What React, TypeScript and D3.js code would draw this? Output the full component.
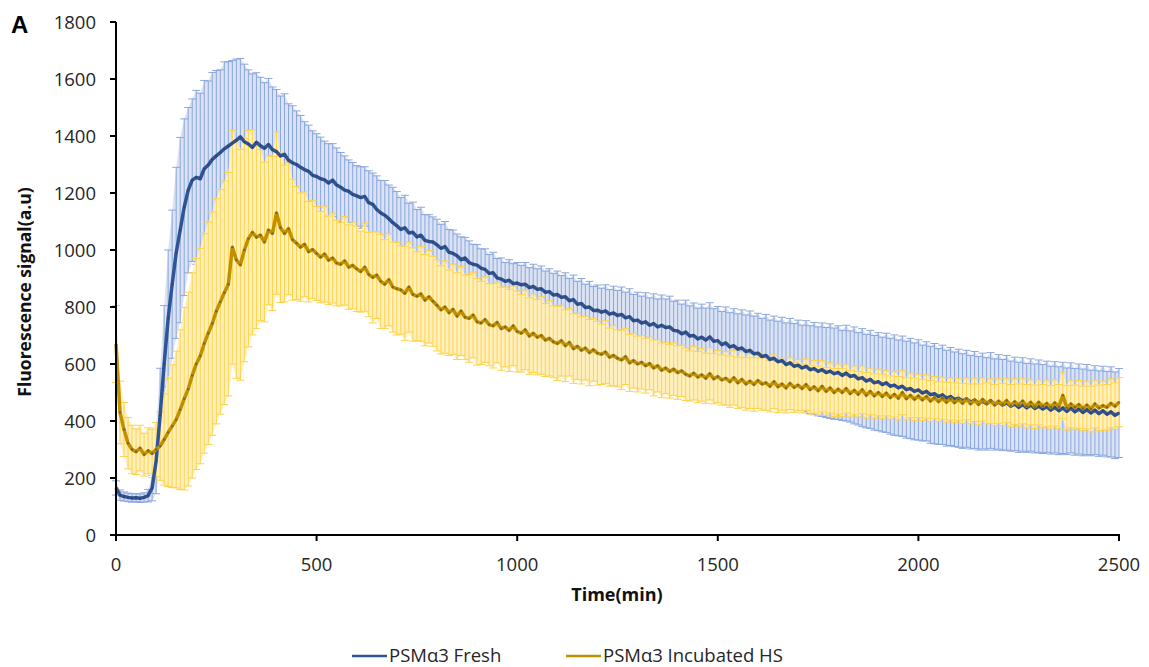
import React from 'react';
import * as d3 from 'd3';

// time axis (min), one reading every 10 min
const TIMES: number[] = d3.range(0, 2501, 10);

const FRESH_MEAN: number[] = [
  165, 140, 135, 132, 130, 131, 129, 132, 138, 165,
  260, 420, 600, 760, 880, 990, 1070, 1150, 1210, 1245,
  1255, 1250, 1285, 1298, 1318, 1330, 1342, 1355, 1365, 1375,
  1385, 1397, 1380, 1372, 1360, 1378, 1366, 1357, 1370, 1352,
  1345, 1330, 1336, 1315, 1306, 1300, 1290, 1282, 1276, 1262,
  1258, 1250, 1246, 1235, 1245, 1228, 1220, 1210, 1206, 1195,
  1190, 1184, 1188, 1166, 1160, 1142, 1130, 1122, 1110, 1096,
  1085, 1072, 1078, 1060, 1062, 1046, 1052, 1034, 1030, 1028,
  1018, 1006, 1012, 992, 988, 980, 966, 972, 956, 950,
  947, 936, 932, 918, 920, 902, 898, 890, 894, 882,
  884, 878, 880, 868, 872, 862, 864, 852, 854, 842,
  844, 834, 836, 822, 826, 810, 812, 798, 800, 788,
  789, 782, 786, 775, 779, 770, 774, 762, 766, 752,
  754, 744, 748, 736, 742, 730, 736, 728, 730, 718,
  716, 706, 712, 698, 700, 688, 694, 684, 695, 680,
  682, 668, 674, 660, 664, 652, 656, 644, 648, 636,
  638, 626, 630, 616, 620, 608, 612, 598, 604, 592,
  596, 586, 592, 580, 584, 574, 580, 570, 575, 566,
  570, 560, 568, 556, 560, 548, 552, 540, 546, 534,
  538, 528, 534, 522, 526, 516, 522, 510, 514, 504,
  509, 498, 504, 492, 496, 486, 492, 480, 486, 476,
  480, 470, 478, 466, 474, 462, 470, 460, 472, 458,
  467, 456, 464, 452, 460, 448, 458, 446, 456, 444,
  452, 442, 450, 438, 448, 436, 446, 434, 446, 432,
  442, 430, 440, 428, 438, 426, 436, 424, 432, 420,
  428,
];

const FRESH_ERR: number[] = [
  25, 18, 16, 15, 15, 14, 15, 16, 22, 45,
  115, 165, 205, 240, 260, 300, 325, 310, 290, 285,
  305, 300, 310, 295, 305, 300, 290, 305, 296, 290,
  285, 275, 272, 260, 258, 244, 240, 230, 232, 220,
  218, 210, 212, 198, 200, 188, 182, 168, 162, 156,
  150, 146, 136, 138, 128, 130, 122, 120, 110, 112,
  106, 108, 104, 112, 110, 118, 114, 122, 118, 124,
  120, 112, 114, 104, 106, 96, 98, 90, 94, 88,
  90, 84, 88, 80, 82, 76, 80, 72, 76, 70,
  72, 68, 72, 66, 72, 68, 74, 66, 72, 70,
  72, 68, 76, 70, 78, 72, 80, 74, 80, 76,
  82, 76, 84, 78, 86, 80, 88, 82, 90, 84,
  88, 84, 92, 86, 94, 88, 96, 90, 98, 92,
  98, 94, 102, 96, 104, 98, 106, 100, 108, 102,
  108, 104, 112, 106, 114, 108, 116, 112, 120, 114,
  120, 116, 126, 120, 130, 124, 134, 128, 138, 132,
  140, 134, 144, 138, 148, 142, 152, 146, 156, 150,
  158, 150, 160, 154, 162, 156, 164, 158, 166, 160,
  164, 158, 168, 160, 170, 162, 172, 164, 172, 166,
  172, 166, 174, 168, 176, 168, 176, 170, 176, 170,
  176, 168, 174, 170, 176, 168, 174, 168, 172, 166,
  172, 166, 170, 164, 170, 164, 168, 162, 168, 160,
  166, 160, 166, 158, 164, 158, 164, 156, 162, 156,
  162, 156, 160, 154, 160, 154, 160, 152, 158, 152,
  158, 152, 158, 150, 156, 150, 156, 150, 158, 152,
  156,
];

const HS_MEAN: number[] = [
  670, 430, 370, 322, 300, 292, 305, 282, 296, 286,
  300, 312, 335, 360, 382, 405, 440, 478, 512, 560,
  600, 628, 672, 708, 742, 785, 818, 850, 880, 1010,
  965, 948, 1000, 1040, 1062, 1045, 1052, 1028, 1070, 1058,
  1130, 1078, 1058, 1075, 1036, 1024, 1010, 1020, 994, 1002,
  988, 975, 986, 964, 972, 954, 950, 962, 940, 946,
  934, 924, 940, 914, 904, 912, 890, 880, 896, 870,
  864, 860, 848, 870, 844, 838, 846, 824, 836, 820,
  806, 790, 800, 780, 792, 768, 786, 764, 760, 772,
  748, 744, 756, 738, 734, 746, 724, 730, 718, 734,
  714, 708, 720, 698, 708, 694, 700, 684, 690, 678,
  672, 682, 664, 676, 654, 662, 648, 656, 640, 650,
  638, 634, 642, 624, 630, 620, 614, 626, 604, 612,
  600, 606, 594, 602, 586, 594, 578, 586, 574, 582,
  570, 576, 564, 558, 568, 554, 562, 550, 566, 548,
  556, 544, 550, 538, 552, 534, 546, 530, 540, 528,
  542, 530, 534, 522, 538, 520, 530, 516, 532, 518,
  526, 514, 528, 510, 520, 506, 522, 504, 516, 500,
  512, 500, 514, 496, 508, 494, 510, 490, 504, 488,
  500, 486, 498, 482, 494, 480, 500, 478, 490, 476,
  488, 474, 486, 470, 482, 468, 480, 466, 478, 464,
  476, 462, 478, 460, 474, 458, 476, 462, 470, 456,
  470, 458, 472, 454, 468, 456, 470, 452, 466, 450,
  466, 452, 462, 448, 464, 450, 490, 446, 460, 448,
  458, 444, 456, 442, 460, 446, 454, 448, 462, 452,
  466,
];

const HS_ERR: number[] = [
  135, 110, 95, 90, 85, 80, 80, 75, 80, 85,
  95, 120, 160, 190, 215, 240, 280, 320, 340, 360,
  370, 378, 385, 390, 392, 395, 394, 392, 392, 410,
  415, 405, 392, 380, 360, 320, 300, 280, 262, 270,
  285, 262, 240, 232, 212, 198, 190, 184, 176, 172,
  165, 160, 168, 155, 158, 150, 146, 155, 148, 152,
  150, 142, 155, 148, 160, 152, 165, 156, 162, 158,
  162, 155, 165, 158, 164, 156, 166, 160, 162, 158,
  160, 155, 162, 150, 158, 152, 156, 148, 154, 150,
  152, 146, 150, 144, 148, 142, 146, 140, 144, 140,
  142, 136, 140, 134, 138, 132, 136, 128, 132, 126,
  130, 124, 126, 118, 122, 116, 118, 112, 116, 110,
  112, 106, 110, 102, 106, 100, 104, 98, 100, 96,
  98, 94, 96, 92, 98, 92, 96, 90, 94, 92,
  94, 90, 92, 88, 94, 90, 92, 88, 92, 88,
  92, 88, 94, 90, 96, 90, 98, 92, 96, 94,
  98, 92, 96, 90, 94, 90, 92, 88, 92, 88,
  90, 86, 90, 86, 92, 86, 90, 84, 88, 84,
  88, 84, 86, 82, 86, 80, 84, 80, 82, 78,
  82, 78, 80, 76, 80, 76, 78, 74, 78, 74,
  76, 72, 76, 72, 74, 70, 74, 70, 74, 70,
  74, 70, 74, 70, 76, 72, 76, 72, 78, 72,
  78, 74, 78, 74, 80, 74, 80, 76, 80, 76,
  80, 76, 82, 76, 82, 78, 82, 78, 84, 78,
  84, 78, 84, 80, 84, 80, 86, 80, 86, 82,
  86,
];

const X_TICKS: number[] = [0, 500, 1000, 1500, 2000, 2500];
const Y_TICKS: number[] = [0, 200, 400, 600, 800, 1000, 1200, 1400, 1600, 1800];
const SERIES_NAMES: string[] = ['PSMα3 Fresh', 'PSMα3 Incubated HS'];

type Pt = { t: number; m: number; e: number };

export default function App() {
  const W = 1149;
  const H = 667;
  const x = d3.scaleLinear().domain([0, 2500]).range([116, 1119]);
  const y = d3.scaleLinear().domain([0, 1800]).range([535, 22]);

  const build = (mean: number[], err: number[]): Pt[] =>
    TIMES.map((t, i) => ({ t, m: mean[i], e: err[i] }));
  const fresh = build(FRESH_MEAN, FRESH_ERR);
  const hs = build(HS_MEAN, HS_ERR);

  const area = d3
    .area<Pt>()
    .x((d) => x(d.t))
    .y0((d) => y(Math.max(0, d.m - d.e)))
    .y1((d) => y(d.m + d.e));
  const line = d3
    .line<Pt>()
    .x((d) => x(d.t))
    .y((d) => y(d.m));

  const errPath = (data: Pt[], cap: number) =>
    data
      .map((p) => {
        const xx = x(p.t);
        const yt = y(p.m + p.e);
        const yb = y(Math.max(0, p.m - p.e));
        return `M${xx},${yb}V${yt}M${xx - cap},${yt}H${xx + cap}M${xx - cap},${yb}H${xx + cap}`;
      })
      .join('');

  const font = '"Open Sans", "Noto Sans", sans-serif';

  return (
    <svg
      width={W}
      height={H}
      viewBox={`0 0 ${W} ${H}`}
      style={{ position: 'absolute', left: 0, top: 0, background: '#fff' }}
    >
      <rect x={0} y={0} width={W} height={H} fill="#fff" />

      {/* Fresh error bars */}
      <path d={area(fresh) || ''} fill="#dae2f4" />
      <path d={errPath(fresh, 4)} stroke="#8aa7dc" strokeWidth={1} fill="none" />

      {/* Incubated HS error bars */}
      <path d={area(hs) || ''} fill="#fff0c0" />
      <path d={errPath(hs, 4)} stroke="#ffd24a" strokeWidth={1} fill="none" />

      {/* lines */}
      <path d={line(fresh) || ''} stroke="#2f5597" strokeWidth={3.5} fill="none" strokeLinejoin="round" />
      {fresh.map((p, i) => (
        <circle key={'f' + i} cx={x(p.t)} cy={y(p.m)} r={1.2} fill="#3b3b4a" opacity={0.55} />
      ))}
      <path d={line(hs) || ''} stroke="#bf9000" strokeWidth={3.5} fill="none" strokeLinejoin="round" />
      {hs.map((p, i) => (
        <circle key={'h' + i} cx={x(p.t)} cy={y(p.m)} r={1.2} fill="#444" opacity={0.55} />
      ))}

      {/* axes */}
      <line x1={116} x2={116} y1={22} y2={536} stroke="#000" strokeWidth={2} />
      <line x1={115} x2={1120} y1={535} y2={535} stroke="#000" strokeWidth={2} />
      {Y_TICKS.map((v) => (
        <g key={'y' + v}>
          <line x1={110} x2={116} y1={y(v)} y2={y(v)} stroke="#000" strokeWidth={2} />
          <text x={96} y={y(v)} dy="0.36em" textAnchor="end" fontFamily={font} fontSize={18.5} fill="#262626">
            {v}
          </text>
        </g>
      ))}
      {X_TICKS.map((v) => (
        <g key={'x' + v}>
          <line x1={x(v)} x2={x(v)} y1={535} y2={541} stroke="#000" strokeWidth={2} />
          <text x={x(v)} y={571} textAnchor="middle" fontFamily={font} fontSize={18.5} fill="#262626">
            {v}
          </text>
        </g>
      ))}

      <text x={617} y={601} textAnchor="middle" fontFamily={font} fontSize={18} fontWeight="bold" fill="#111">
        Time(min)
      </text>
      <text
        transform={`translate(31,292) rotate(-90)`}
        textAnchor="middle"
        fontFamily={font}
        fontSize={17.5}
        fontWeight="bold"
        fill="#111"
      >
        Fluorescence signal(a.u)
      </text>
      <text x={11} y={33} fontFamily='"Liberation Sans", Arial, sans-serif' fontSize={24} fontWeight="bold" fill="#000">
        A
      </text>

      {/* legend */}
      <line x1={352} x2={387} y1={656} y2={656} stroke="#2f5597" strokeWidth={2.5} />
      <text x={389} y={662} fontFamily={font} fontSize={18.5} fill="#262626">
        {SERIES_NAMES[0]}
      </text>
      <line x1={566} x2={601} y1={656} y2={656} stroke="#bf9000" strokeWidth={2.5} />
      <text x={603} y={662} fontFamily={font} fontSize={18.5} fill="#262626">
        {SERIES_NAMES[1]}
      </text>
    </svg>
  );
}
